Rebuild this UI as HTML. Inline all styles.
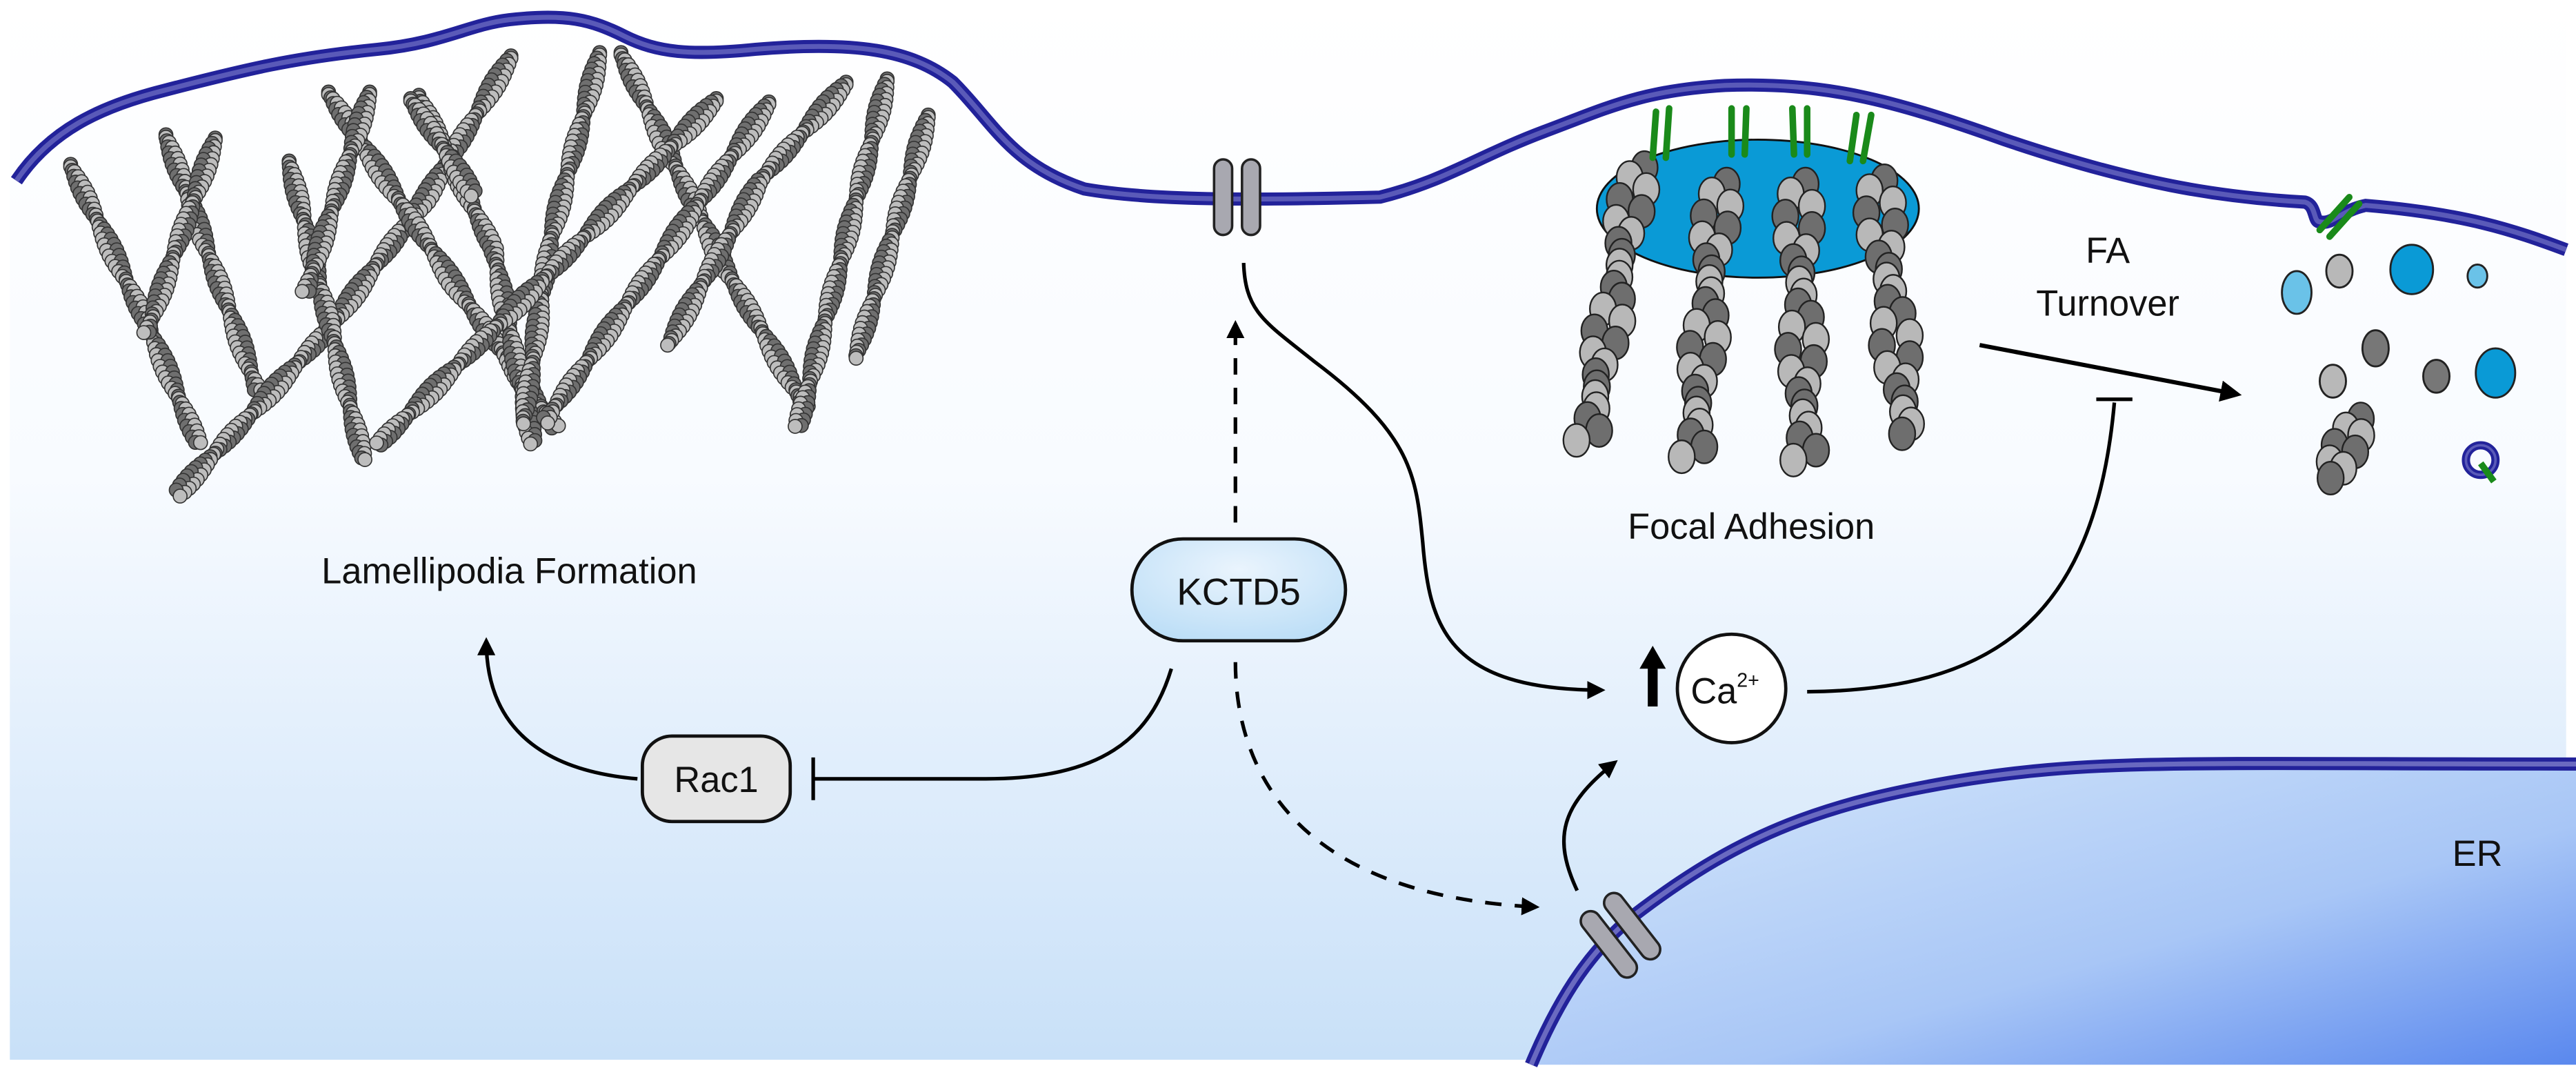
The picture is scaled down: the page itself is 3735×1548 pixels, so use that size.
<!DOCTYPE html>
<html><head><meta charset="utf-8"><style>
html,body{margin:0;padding:0;background:#fff;}
svg{display:block;}
text{font-family:"Liberation Sans",Arial,sans-serif;fill:#111;}
</style></head><body>
<svg id="s" width="3735" height="1548" viewBox="0 0 1568 650" preserveAspectRatio="none" xmlns="http://www.w3.org/2000/svg">
<defs>
<linearGradient id="bg" x1="0" y1="0" x2="0" y2="1">
<stop offset="0" stop-color="#ffffff"/><stop offset="0.45" stop-color="#f8fbff"/><stop offset="1" stop-color="#c8e0f8"/>
</linearGradient>
<linearGradient id="er" x1="0" y1="0" x2="1" y2="1">
<stop offset="0" stop-color="#d6e8fb"/><stop offset="0.6" stop-color="#a8c6f6"/><stop offset="1" stop-color="#5a88ee"/>
</linearGradient>
<radialGradient id="kc" cx="0.5" cy="0.3" r="0.8">
<stop offset="0" stop-color="#eaf4fd"/><stop offset="1" stop-color="#b8dcf6"/>
</radialGradient>
<marker id="ah" viewBox="0 0 10 10" refX="8" refY="5" markerWidth="5" markerHeight="5" orient="auto"><path d="M0,0 L10,5 L0,10 z" fill="#000"/></marker>
</defs>
<rect x="0" y="0" width="1568" height="645" fill="url(#bg)"/>
<rect x="0" y="645" width="1568" height="5" fill="#fff"/>
<rect x="0" y="0" width="6" height="650" fill="#fff"/>
<rect x="1562" y="0" width="6" height="650" fill="#fff"/>

<!-- ER -->
<path d="M932,648 C950,605 970,575 1000,553 C1060,508 1110,488 1200,474 C1280,462 1330,465 1568,465 L1568,648 Z" fill="url(#er)"/>
<path d="M932,648 C950,605 970,575 1000,553 C1060,508 1110,488 1200,474 C1280,462 1330,465 1568,465" fill="none" stroke="#22229a" stroke-width="8"/>
<path d="M932,648 C950,605 970,575 1000,553 C1060,508 1110,488 1200,474 C1280,462 1330,465 1568,465" fill="none" stroke="#6a6ac0" stroke-width="3"/>
<text x="1508" y="527" font-size="22" text-anchor="middle">ER</text>

<!-- top membrane -->
<path d="M10,110 C30,80 60,65 100,55 C150,42 180,35 230,30 C270,26 285,15 310,12 C345,8 360,12 380,22 C400,32 420,34 460,30 C520,25 555,30 580,50 C605,75 615,100 660,115 C700,122 760,122 840,120 C880,110 900,95 940,80 C980,65 1000,55 1050,52 C1110,50 1150,60 1220,85 C1300,112 1350,120 1403,123 C1410,125 1408,135 1412,135 C1420,137 1425,128 1440,125 C1500,130 1530,140 1562,152" fill="none" stroke="#22229a" stroke-width="8"/>
<path d="M10,110 C30,80 60,65 100,55 C150,42 180,35 230,30 C270,26 285,15 310,12 C345,8 360,12 380,22 C400,32 420,34 460,30 C520,25 555,30 580,50 C605,75 615,100 660,115 C700,122 760,122 840,120 C880,110 900,95 940,80 C980,65 1000,55 1050,52 C1110,50 1150,60 1220,85 C1300,112 1350,120 1403,123 C1410,125 1408,135 1412,135 C1420,137 1425,128 1440,125 C1500,130 1530,140 1562,152" fill="none" stroke="#5a5ab8" stroke-width="3"/>

<!-- actin network -->
<g id="actin"></g>

<!-- channel top -->
<rect x="739" y="97" width="11" height="46" rx="5.5" fill="#a8a8b0" stroke="#222" stroke-width="1.5"/>
<rect x="756" y="97" width="11" height="46" rx="5.5" fill="#a8a8b0" stroke="#222" stroke-width="1.5"/>

<!-- ER channel -->
<g transform="translate(987,570) rotate(-38)">
<rect x="-15" y="-25" width="12" height="48" rx="6" fill="#a8a8b0" stroke="#222" stroke-width="1.5"/>
<rect x="3" y="-25" width="12" height="48" rx="6" fill="#a8a8b0" stroke="#222" stroke-width="1.5"/>
</g>

<!-- focal adhesion -->
<ellipse cx="1070" cy="127" rx="98" ry="42" fill="#0a9ad6" stroke="#111" stroke-width="1.2"/>
<g id="fa"></g>
<g stroke="#1a8a1a" stroke-width="4" stroke-linecap="round" fill="none">
<path d="M1008,68 L1006,96 M1016,66 L1014,96"/>
<path d="M1054,66 L1054,94 M1063,66 L1062,94"/>
<path d="M1091,66 L1092,94 M1100,66 L1100,94"/>
<path d="M1130,70 L1126,98 M1139,70 L1134,98"/>
<path d="M1412,140 L1430,120 M1418,144 L1436,124"/>
</g>

<!-- debris -->
<g stroke="#222" stroke-width="1.2">
<ellipse cx="1398" cy="178" rx="9" ry="13" fill="#6ac2e8"/>
<ellipse cx="1424" cy="165" rx="8" ry="10" fill="#b8b8b8"/>
<ellipse cx="1468" cy="164" rx="13" ry="15" fill="#0a9ad6"/>
<ellipse cx="1508" cy="168" rx="6" ry="7" fill="#6ac2e8"/>
<ellipse cx="1446" cy="212" rx="8" ry="11" fill="#777"/>
<ellipse cx="1420" cy="232" rx="8" ry="10" fill="#b8b8b8"/>
<ellipse cx="1483" cy="229" rx="8" ry="10" fill="#777"/>
<ellipse cx="1519" cy="227" rx="12" ry="15" fill="#0a9ad6"/>
</g>
<g id="deb"></g>
<circle cx="1510" cy="280" r="9" fill="none" stroke="#22229a" stroke-width="5"/>
<circle cx="1510" cy="280" r="9" fill="none" stroke="#5a5ab8" stroke-width="1.5"/>
<path d="M1510,282 L1518,293" stroke="#1a8a1a" stroke-width="4"/>

<!-- texts -->
<text x="310" y="355" font-size="22" text-anchor="middle">Lamellipodia Formation</text>
<text x="1066" y="328" font-size="22" text-anchor="middle">Focal Adhesion</text>
<text x="1283" y="160" font-size="22" text-anchor="middle">FA</text>
<text x="1283" y="192" font-size="22" text-anchor="middle">Turnover</text>

<!-- KCTD5 -->
<rect x="689" y="328" width="130" height="62" rx="31" fill="url(#kc)" stroke="#111" stroke-width="2"/>
<text x="754" y="368" font-size="23" text-anchor="middle">KCTD5</text>

<!-- Rac1 -->
<rect x="391" y="448" width="90" height="52" rx="18" fill="#e6e6e6" stroke="#111" stroke-width="2"/>
<text x="436" y="482" font-size="22" text-anchor="middle">Rac1</text>

<!-- Ca2+ -->
<circle cx="1054" cy="419" r="33" fill="#fff" stroke="#111" stroke-width="2"/>
<text x="1050" y="428" font-size="22" text-anchor="middle">Ca<tspan font-size="12" dy="-10">2+</tspan></text>
<path d="M1006,430 L1006,405" stroke="#000" stroke-width="6"/>
<path d="M998,407 L1006,393 L1014,407 Z" fill="#000"/>

<!-- connectors -->
<g fill="none" stroke="#000" stroke-width="2.2">
<path d="M757,160 C758,190 770,196 800,220 C860,265 862,290 866,330 C870,380 880,420 975,420" marker-end="url(#ah)"/>
<path d="M752,318 L752,197" stroke-dasharray="10,8" marker-end="url(#ah)"/>
<path d="M752,403 C752,470 790,545 935,552" stroke-dasharray="10,8" marker-end="url(#ah)"/>
<path d="M960,542 C945,510 950,490 983,464" marker-end="url(#ah)"/>
<path d="M713,407 C700,450 670,474 600,474 L496,474"/>
<path d="M495,461 L495,487"/>
<path d="M388,474 C340,470 296,450 296,390" marker-end="url(#ah)"/>
<path d="M1100,421 C1210,420 1275,380 1287,245"/>
<path d="M1276,243 L1298,243"/>
<path d="M1205,210 L1362,240" stroke-width="2.6" marker-end="url(#ah)"/>
</g>
</svg>
<script>
var NS="http://www.w3.org/2000/svg";
function el(p,t,a){var e=document.createElementNS(NS,t);for(var k in a)e.setAttribute(k,a[k]);p.appendChild(e);return e;}
var actin=document.getElementById('actin');
var L=[
[[43,100],[88,193],[122,272]],[[101,82],[158,240]],[[131,84],[88,205]],[[311,34],[259,120],[199,201],[106,302]],
[[176,98],[222,282]],[[200,56],[275,170],[340,262]],[[225,56],[185,180]],[[255,58],[300,150],[325,272]],
[[365,32],[335,145],[318,260]],[[378,32],[440,160],[492,250]],[[436,60],[330,170],[228,272]],[[468,62],[330,258]],
[[540,48],[485,262]],[[565,70],[520,220]],[[515,50],[462,110],[405,212]],[[250,60],[290,120]]
];
L.forEach(function(pts){
 var k=0;
 for(var s=0;s<pts.length-1;s++){
  var a=pts[s],b=pts[s+1],dx=b[0]-a[0],dy=b[1]-a[1],len=Math.hypot(dx,dy),nx=-dy/len,ny=dx/len;
  var n=Math.floor(len/3.6);
  for(var i=0;i<n;i++){var t=i/n,x=a[0]+dx*t,y=a[1]+dy*t,o=Math.sin(k*0.3)*2.6;k++;
   el(actin,'circle',{cx:x+nx*o,cy:y+ny*o,r:4.2,fill:'#6f6f6f',stroke:'#333','stroke-width':0.7});
   el(actin,'circle',{cx:x-nx*o,cy:y-ny*o+1.5,r:4.2,fill:'#bdbdbd',stroke:'#333','stroke-width':0.7});
  }
 }
});
var fa=document.getElementById('fa');
function col(x0,y0,x1,y1,g,n){for(var i=0;i<n;i++){var t=i/(n-1);var x=x0+(x1-x0)*t,y=y0+(y1-y0)*t;
 var off=Math.sin(i*1.1)*4;
 el(g,'ellipse',{cx:x+off+5,cy:y,rx:8,ry:10,fill:(i%2?'#b8b8b8':'#6e6e6e'),stroke:'#222','stroke-width':1});
 el(g,'ellipse',{cx:x-off-4,cy:y+6,rx:8,ry:10,fill:(i%2?'#6e6e6e':'#b8b8b8'),stroke:'#222','stroke-width':1});}}
col(996,102,966,262,fa,13);col(1046,112,1030,272,fa,13);col(1094,112,1098,274,fa,13);col(1142,110,1160,258,fa,12);
col(1432,255,1422,285,document.getElementById('deb'),4);
</script>
</body></html>
